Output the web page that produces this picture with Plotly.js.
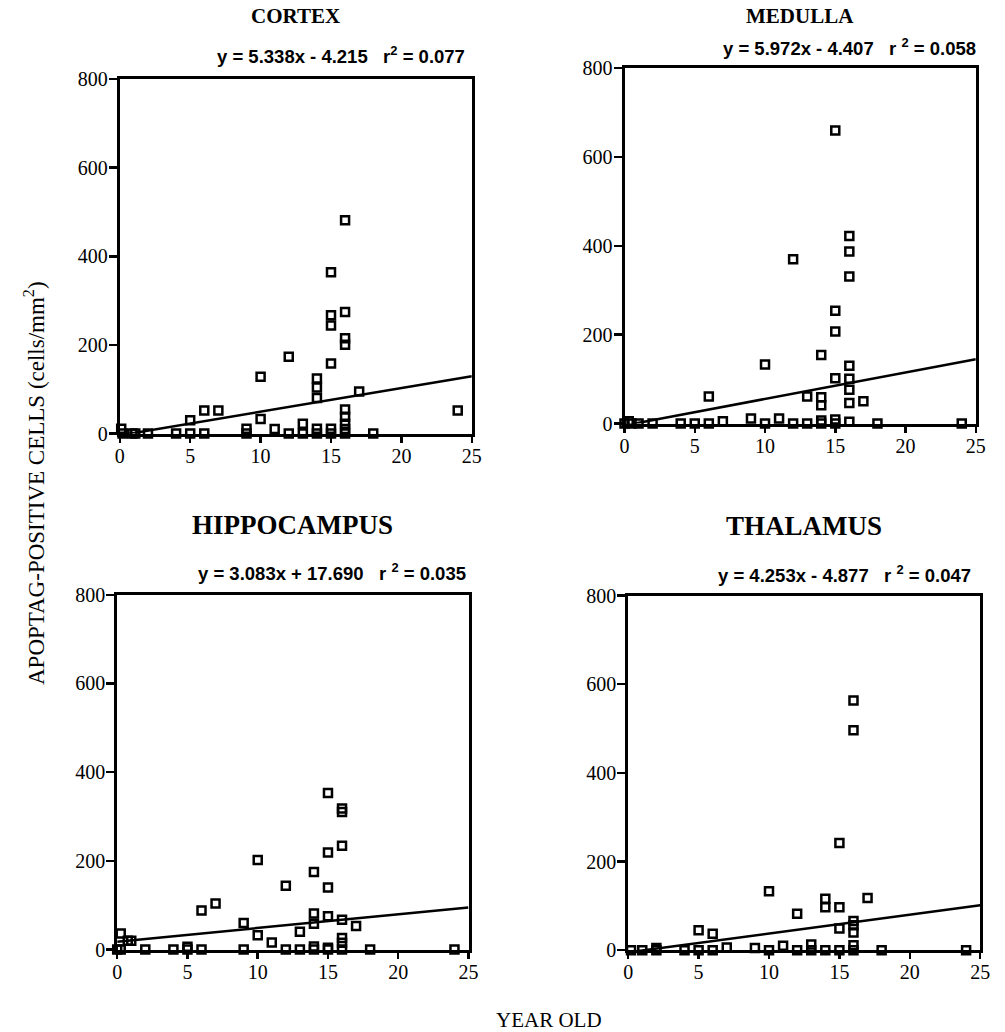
<!DOCTYPE html>
<html>
<head>
<meta charset="utf-8">
<script src="https://cdn.plot.ly/plotly-3.0.1.min.js"></script>
<style>
  html, body { margin: 0; padding: 0; background: #fff; }
  #chart { width: 1005px; height: 1032px; }
</style>
</head>
<body>
<div id="chart"></div>
<script>
// ---------------- DATA ----------------
const regionNames = ["CORTEX", "MEDULLA", "HIPPOCAMPUS", "THALAMUS"];
const slopes      = [5.338, 5.972, 3.083, 4.253];
const intercepts  = [-4.215, -4.407, 17.690, -4.877];
const r2Values    = [0.077, 0.058, 0.035, 0.047];

const xTickVals = [0, 5, 10, 15, 20, 25];
const yTickVals = [0, 200, 400, 600, 800];

const cortexAge   = [16, 15, 15, 15, 16, 16, 16, 12, 15, 10, 14, 14, 14, 17, 6, 7, 24, 16, 16, 16, 16, 5, 10, 13, 9, 11, 14, 15, 0.1,
                     0.2, 0.9, 1.1, 2, 4, 5, 6, 9, 12, 13, 14, 15, 16, 18];
const cortexCells = [481, 364, 267, 244, 274, 215, 200, 173, 158, 128, 124, 104, 80, 95, 52, 52, 52, 54, 38, 22, 10, 30, 33, 22, 11, 10, 11, 11, 11,
                     0, 0, 0, 0, 0, 0, 0, 0, 0, 0, 0, 0, 0, 0];

const medullaAge   = [15, 16, 16, 12, 16, 15, 15, 14, 10, 16, 15, 16, 16, 6, 13, 14, 14, 17, 16, 9, 11, 7, 14, 15, 16, 0.3,
                      0, 0.5, 1, 2, 4, 5, 6, 10, 12, 13, 14, 15, 18, 24];
const medullaCells = [660, 422, 387, 370, 331, 254, 207, 154, 133, 130, 102, 101, 76, 61, 61, 59, 41, 50, 46, 11, 11, 5, 7, 9, 4, 5,
                      0, 0, 0, 0, 0, 0, 0, 0, 0, 0, 0, 0, 0, 0];

const hippoAge   = [15, 16, 16, 16, 15, 10, 14, 12, 15, 6, 7, 14, 14, 15, 16, 17, 9, 13, 10, 11, 16, 16, 0.25, 0.75, 1, 5, 14, 15,
                    0, 0.25, 2, 4, 5, 6, 9, 12, 13, 14, 15, 16, 18, 24];
const hippoCells = [353, 318, 310, 234, 219, 202, 175, 144, 140, 88, 104, 81, 58, 75, 67, 53, 60, 40, 32, 16, 26, 15, 36, 20, 20, 6, 7, 4,
                    0, 0, 0, 0, 0, 0, 0, 0, 0, 0, 0, 0, 0, 0];

const thalamusAge   = [16, 16, 15, 10, 17, 14, 14, 15, 12, 16, 16, 16, 15, 5, 6, 7, 9, 11, 13, 16, 2,
                       0.2, 1, 2, 4, 5, 6, 10, 12, 13, 14, 15, 16, 18, 24];
const thalamusCells = [563, 496, 242, 133, 118, 116, 97, 97, 82, 66, 56, 40, 49, 45, 37, 6, 5, 10, 13, 11, 5,
                       0, 0, 0, 0, 0, 0, 0, 0, 0, 0, 0, 0, 0, 0];

const ageSets  = [cortexAge, medullaAge, hippoAge, thalamusAge];
const cellSets = [cortexCells, medullaCells, hippoCells, thalamusCells];

// ---------------- LAYOUT GEOMETRY (pixels) ----------------
const W = 1005, H = 1032;
// frame line centres: [left, right, top, bottom]
const boxes = [
  [118.3, 473.3, 77.5, 435.0],
  [623.0, 977.3, 66.7, 425.0],
  [115.7, 470.0, 593.3, 951.0],
  [626.7, 981.7, 594.0, 951.7]
];
const titleY   = [16, 16, 525, 526];
const titleSz  = [21, 21, 27, 27];
const eqY      = [55, 47, 572, 574];
const eqRight  = [467, 978, 468, 973];
const r2Space  = ["", " ", " ", " "];

const LW = 3;
const serif = "Liberation Serif";
const sans  = "Liberation Sans";

const traces = [];
const layout = {
  width: W, height: H,
  margin: {l: 0, r: 0, t: 0, b: 0},
  paper_bgcolor: "#fff", plot_bgcolor: "#fff",
  showlegend: false,
  annotations: []
};

function fmt(v) { return v.toFixed(3); }

for (let i = 0; i < 4; i++) {
  const n = i === 0 ? "" : String(i + 1);
  const xa = "x" + n, ya = "y" + n;
  const b = boxes[i];
  const inset = LW / 2;
  layout["xaxis" + n] = {
    domain: [(b[0] + inset) / W, (b[1] - inset) / W],
    range: [0, 25], anchor: ya,
    tickvals: xTickVals, ticktext: xTickVals.map(String),
    showline: true, linewidth: LW, linecolor: "#000", mirror: true,
    ticks: "outside", ticklen: 6, tickwidth: 2.5, tickcolor: "#000",
    ticklabelstandoff: -4,
    showgrid: false, zeroline: false, fixedrange: true,
    tickfont: {family: serif, size: 20, color: "#000"}
  };
  layout["yaxis" + n] = {
    domain: [1 - (b[3] - inset) / H, 1 - (b[2] + inset) / H],
    range: [0, 800], anchor: xa,
    tickvals: yTickVals, ticktext: yTickVals.map(String),
    showline: true, linewidth: LW, linecolor: "#000", mirror: true,
    ticks: "outside", ticklen: 8, tickwidth: 2.5, tickcolor: "#000",
    ticklabelstandoff: -3,
    showgrid: false, zeroline: false, fixedrange: true,
    tickfont: {family: serif, size: 20, color: "#000"}
  };

  // regression line
  const lx = [0, 25];
  traces.push({
    type: "scatter", mode: "lines", xaxis: xa, yaxis: ya,
    x: lx, y: lx.map(v => slopes[i] * v + intercepts[i]),
    line: {color: "#000", width: 2.5}, hoverinfo: "skip"
  });
  // data points
  traces.push({
    type: "scatter", mode: "markers", xaxis: xa, yaxis: ya,
    x: ageSets[i], y: cellSets[i], cliponaxis: false,
    marker: {symbol: "square-open", size: 8, color: "#000",
             line: {color: "#000", width: 2.5}}
  });

  // panel title
  layout.annotations.push({
    xref: "paper", yref: "paper",
    x: ((b[0] + b[1]) / 2) / W, y: 1 - titleY[i] / H,
    xanchor: "center", yanchor: "middle", showarrow: false,
    text: "<b>" + regionNames[i] + "</b>",
    font: {family: serif, size: titleSz[i], color: "#000"}
  });
  // equation
  const sign = intercepts[i] < 0 ? " - " : " + ";
  const eq = "y = " + fmt(slopes[i]) + "x" + sign + fmt(Math.abs(intercepts[i])) +
             "   r" + r2Space[i] + "<sup>2</sup> = " + fmt(r2Values[i]);
  layout.annotations.push({
    xref: "paper", yref: "paper",
    x: eqRight[i] / W, y: 1 - eqY[i] / H,
    xanchor: "right", yanchor: "middle", showarrow: false,
    text: "<b>" + eq + "</b>",
    font: {family: sans, size: 18.5, color: "#000"}
  });
}

// shared axis titles
layout.annotations.push({
  xref: "paper", yref: "paper", x: 35 / W, y: 1 - 483 / H,
  xanchor: "center", yanchor: "middle", showarrow: false, textangle: -90,
  text: "APOPTAG-POSITIVE CELLS (cells/mm<sup>2</sup>)",
  font: {family: serif, size: 23, color: "#000"}
});
layout.annotations.push({
  xref: "paper", yref: "paper", x: 549 / W, y: 1 - 1020 / H,
  xanchor: "center", yanchor: "middle", showarrow: false,
  text: "YEAR OLD",
  font: {family: serif, size: 21, color: "#000"}
});

Plotly.newPlot("chart", traces, layout, {displayModeBar: false, staticPlot: true});
</script>
</body>
</html>
